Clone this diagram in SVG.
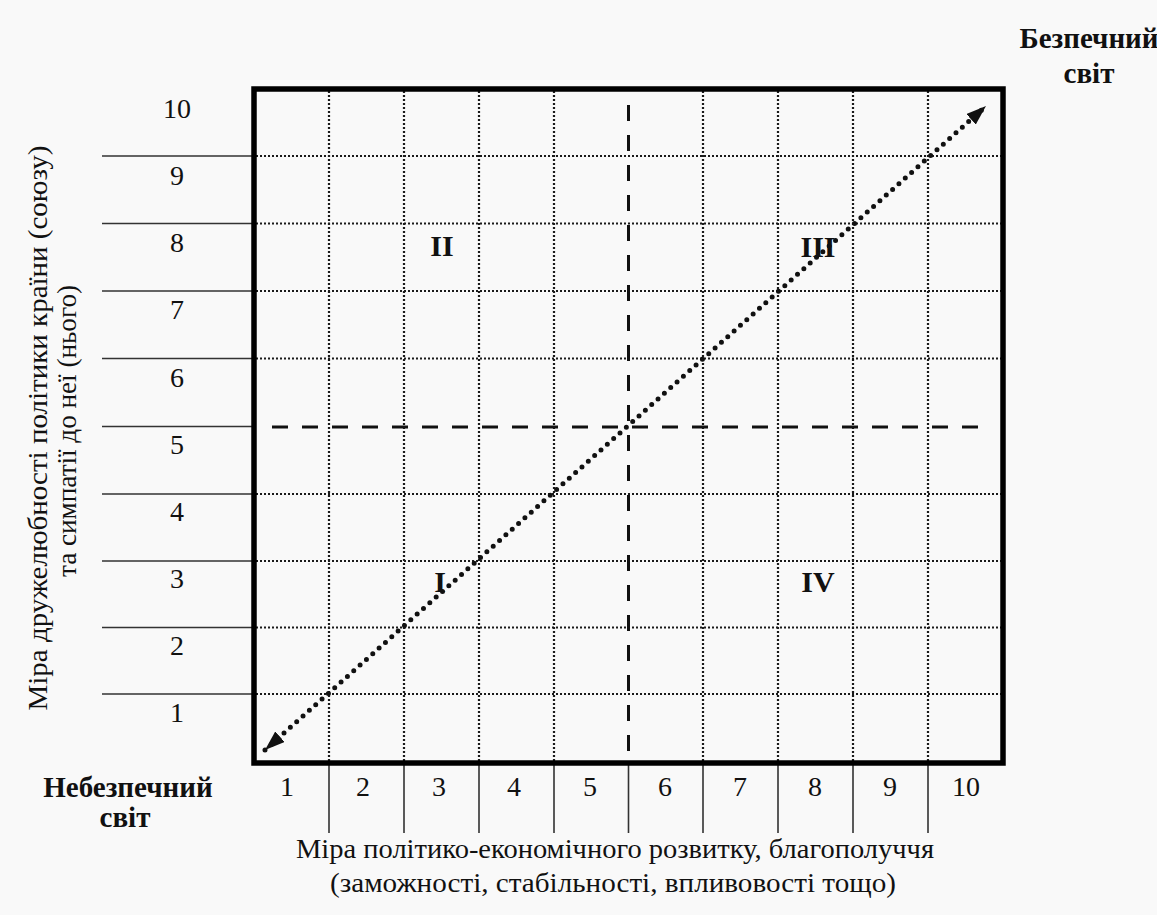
<svg xmlns="http://www.w3.org/2000/svg" width="1157" height="915" viewBox="0 0 1157 915">
<style>
text{font-family:"Liberation Serif","Times New Roman",serif;fill:#111}
.num{font-size:28px;text-anchor:middle}
.bold{font-weight:bold;font-size:29px;text-anchor:middle}
.rom{font-weight:bold;font-size:30px;text-anchor:middle}
.cap{font-size:28px;text-anchor:middle}
.grid{stroke:#1a1a1a;stroke-width:2.2;stroke-dasharray:2 2;fill:none}
.tick{stroke:#333;stroke-width:1.6;fill:none}
.dash{stroke:#111;stroke-width:3;stroke-dasharray:16 14;fill:none}
.diag{stroke:#111;stroke-width:5;stroke-linecap:round;stroke-dasharray:0 8.5;fill:none}
</style>
<defs>
<marker id="ah" viewBox="0 0 20 14" refX="20" refY="7" markerWidth="20" markerHeight="14" markerUnits="userSpaceOnUse" orient="auto-start-reverse">
<path d="M0,0 L20,7 L0,14 z" fill="#111"/>
</marker>
</defs>
<rect x="0" y="0" width="1157" height="915" fill="#f9f9f9"/>

<g id="grid">
<path class="grid" d="M329,91V761 M404,91V761 M479,91V761 M554,91V761 M703,91V761 M778,91V761 M853,91V761 M928,91V761"/>
<path class="grid" d="M256,156H1001 M256,223.5H1001 M256,291H1001 M256,358.5H1001 M256,494H1001 M256,561H1001 M256,627.5H1001 M256,694H1001"/>
</g>

<g id="axis-ticks">
<path class="tick" d="M102,156H254 M102,223.5H254 M102,291H254 M102,358.5H254 M102,426.5H254 M102,494H254 M102,561H254 M102,627.5H254 M102,694H254"/>
<path class="tick" d="M329,763V833 M404,763V833 M479,763V833 M554,763V833 M628.5,763V833 M703,763V833 M778,763V833 M853,763V833 M928,763V833"/>
</g>

<g id="frame">
<rect x="254" y="89" width="749" height="674" fill="none" stroke="#000" stroke-width="5.5"/>
</g>

<g id="connectors">
<path class="dash" d="M272,427H992"/>
<path class="dash" d="M628.5,105V762"/>
<line class="diag" x1="265" y1="750" x2="986" y2="106" marker-start="url(#ah)" marker-end="url(#ah)"/>
</g>

<g id="y-numbers">
<text class="num" x="177" y="118">10</text>
<text class="num" x="177" y="185">9</text>
<text class="num" x="177" y="252">8</text>
<text class="num" x="177" y="319">7</text>
<text class="num" x="177" y="387">6</text>
<text class="num" x="177" y="454">5</text>
<text class="num" x="177" y="521">4</text>
<text class="num" x="177" y="588">3</text>
<text class="num" x="177" y="655">2</text>
<text class="num" x="177" y="722">1</text>
</g>

<g id="x-numbers">
<text class="num" x="287" y="796">1</text>
<text class="num" x="363" y="796">2</text>
<text class="num" x="439" y="796">3</text>
<text class="num" x="514" y="796">4</text>
<text class="num" x="590" y="796">5</text>
<text class="num" x="665" y="796">6</text>
<text class="num" x="740" y="796">7</text>
<text class="num" x="815" y="796">8</text>
<text class="num" x="890" y="796">9</text>
<text class="num" x="966" y="796">10</text>
</g>

<g id="quadrant-II"><text class="rom" x="442" y="256">II</text></g>
<g id="quadrant-III"><text class="rom" x="818" y="257">III</text></g>
<g id="quadrant-I"><text class="rom" x="440" y="592">I</text></g>
<g id="quadrant-IV"><text class="rom" x="818" y="592">IV</text></g>

<g id="label-dangerous">
<text class="bold" x="128" y="797">Небезпечний</text>
<text class="bold" x="125" y="827">світ</text>
</g>

<g id="label-safe">
<text class="bold" x="1089" y="48">Безпечний</text>
<text class="bold" x="1089" y="83">світ</text>
</g>

<g id="x-caption">
<text class="cap" x="615" y="858" textLength="638" lengthAdjust="spacingAndGlyphs">Міра політико-економічного розвитку, благополуччя</text>
<text class="cap" x="613" y="892" textLength="566" lengthAdjust="spacingAndGlyphs">(заможності, стабільності, впливовості тощо)</text>
</g>

<g id="y-caption">
<text class="cap" transform="translate(47,428) rotate(-90)" textLength="565" lengthAdjust="spacingAndGlyphs">Міра дружелюбності політики  країни (союзу)</text>
<text class="cap" transform="translate(76,431) rotate(-90)" textLength="292" lengthAdjust="spacingAndGlyphs">та симпатії до неї (нього)</text>
</g>
</svg>
